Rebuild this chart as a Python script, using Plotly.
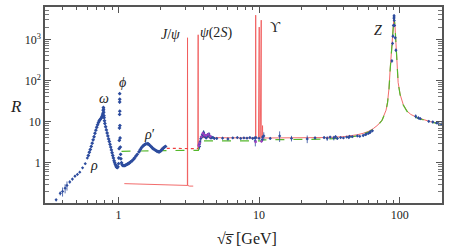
import math
import plotly.graph_objects as go

# ---------------- data ----------------
# blue data: low-energy hadronic region (sqrt(s) in GeV, R)
low_x = [0.36, 0.385, 0.40, 0.417, 0.43, 0.45, 0.47, 0.49, 0.51, 0.53, 0.555, 0.58, 0.60]
low_y = [0.125, 0.18, 0.20, 0.24, 0.28, 0.34, 0.40, 0.47, 0.52, 0.59, 0.75, 0.95, 1.3]
low_e = [0.01, 0.02, 0.05, 0.06, 0.07, 0.03, 0.03, 0.03, 0.03, 0.03, 0.03, 0.04, 0.05]

res_x = [0.61, 0.62, 0.63, 0.64, 0.65, 0.66, 0.67, 0.68, 0.69, 0.70, 0.71, 0.72, 0.73, 0.74, 0.75,
         0.76, 0.765, 0.77, 0.775, 0.778, 0.781, 0.783, 0.785, 0.788, 0.79, 0.795, 0.80, 0.81, 0.82,
         0.83, 0.84, 0.85, 0.86, 0.87, 0.88, 0.89, 0.90, 0.91, 0.92, 0.93, 0.94, 0.95, 0.96, 0.97,
         0.98, 0.99, 1.0, 1.005, 1.01, 1.013, 1.016, 1.018, 1.019, 1.0195, 1.02, 1.021, 1.023, 1.026,
         1.03, 1.035, 1.04, 1.05, 1.06, 1.07, 1.08, 1.1, 1.12, 1.14, 1.16, 1.18, 1.2, 1.22, 1.25,
         1.28, 1.3, 1.33, 1.36, 1.4, 1.43, 1.46, 1.5, 1.53, 1.56, 1.6, 1.63, 1.66, 1.7, 1.73, 1.76,
         1.8, 1.84, 1.88, 1.92, 1.96, 2.0, 2.04, 2.08, 2.12, 2.16]
res_y = [1.5, 1.8, 2.1, 2.5, 3.0, 3.6, 4.3, 5.2, 6.2, 7.3, 8.4, 9.5, 10.5, 11.3, 12.0,
         12.8, 13.5, 14.5, 16, 19, 22, 20, 17, 14, 12.5, 10.5, 9.0, 7.5, 6.3,
         5.3, 4.5, 3.8, 3.3, 2.8, 2.4, 2.05, 1.75, 1.5, 1.3, 1.12, 1.0, 0.9, 0.83, 0.78,
         0.76, 0.8, 0.95, 1.3, 2.2, 3.5, 7, 15, 30, 48, 35, 18, 8, 4,
         2.4, 1.6, 1.25, 1.0, 0.9, 0.86, 0.85, 0.85, 0.87, 0.9, 0.93, 0.96, 1.0, 1.05, 1.12,
         1.22, 1.3, 1.45, 1.6, 1.85, 2.1, 2.35, 2.6, 2.75, 2.85, 2.9, 2.85, 2.7, 2.5, 2.35, 2.2,
         2.1, 2.0, 1.9, 1.85, 1.85, 1.95, 2.1, 2.25, 2.4, 2.5]

# blue data: charm threshold up to the Z
hi_x = [3.75, 3.77, 3.8, 3.85, 3.9, 3.95, 4.0, 4.03, 4.06, 4.1, 4.15, 4.2, 4.25, 4.3, 4.35, 4.4,
        4.45, 4.5, 4.55, 4.6, 4.7, 4.8, 5.0, 5.5, 6.0, 6.5, 7.0, 7.4, 7.8, 8.2, 8.6, 9.0, 9.3,
        9.4, 9.5, 10.0, 10.5, 10.6, 10.8, 12.0, 14.0, 17, 22, 25, 29, 30.5, 32, 34, 35, 36, 38,
        39.8, 42, 43.5, 44, 46, 50, 52, 55, 57, 58, 60, 61, 62, 64]
hi_y = [2.8, 2.5, 3.2, 3.9, 4.2, 4.8, 4.6, 5.5, 4.9, 4.4, 4.5, 4.0, 4.3, 4.8, 4.6, 5.0,
        4.3, 4.1, 4.0, 4.2, 4.1, 3.9, 3.9, 3.95, 3.8, 4.0, 4.1, 3.9, 4.0, 3.95, 4.1, 3.9, 4.0,
        3.4, 4.1, 3.9, 3.6, 4.2, 4.5, 3.9, 4.5, 3.9, 3.8, 4.0, 4.1, 3.9, 4.2, 4.0, 4.3, 3.9, 4.1,
        4.0, 4.2, 4.1, 4.4, 4.3, 4.5, 4.4, 4.6, 4.8, 5.0, 5.2, 5.4, 5.6, 6.0]
hi_e = [0.4, 0.4, 0.5, 0.5, 0.4, 0.6, 0.5, 0.7, 0.5, 0.4, 0.4, 0.3, 0.4, 0.5, 0.4, 0.5,
        0.3, 0.3, 0.3, 0.3, 0.3, 0.3, 0.3, 0.3, 0.3, 0.2, 0.2, 0.2, 0.2, 0.2, 0.2, 0.2, 0.2,
        0.9, 0.2, 0.2, 0.3, 0.4, 1.0, 0.3, 1.3, 0.6, 0.8, 0.3, 0.3, 0.5, 0.3, 0.5, 0.3, 0.3, 0.2,
        0.2, 0.2, 0.2, 0.3, 0.2, 0.3, 0.2, 0.3, 0.3, 0.3, 0.3, 0.3, 0.5, 0.3]

# blue data: Z peak and above
z_dx = [88, 89, 89.5, 90.2, 91.0, 91.2, 91.3, 91.5, 92, 93, 94, 130, 136, 140, 161, 172, 183, 189, 198]
z_dy = [300, 800, 1200, 2200, 3300, 3800, 3500, 2900, 2200, 1100, 550, 13.5, 12.3, 11.8, 10.2, 9.8, 9.3, 9.0, 8.8]
z_de = [30, 80, 120, 200, 300, 300, 300, 250, 200, 100, 50, 1.5, 1.0, 0.8, 0.6, 0.6, 0.5, 0.5, 0.5]

# other experiments near charm threshold
oth_x = [3.72, 3.78, 3.88, 3.98, 4.08, 4.2, 4.35, 4.5, 9.45, 10.4]
oth_y = [2.6, 3.0, 4.3, 5.2, 4.7, 4.6, 4.9, 4.4, 3.2, 3.3]

# red solid: pQCD + Breit-Wigner resonances
jpsi_x = [1.1, 2.0, 3.0, 3.09, 3.097, 3.104, 3.2, 3.4]
jpsi_y = [0.31, 0.29, 0.275, 0.28, 1100, 0.28, 0.27, 0.27]

red_x = [3.67, 3.686, 3.69, 3.75, 3.8, 3.85, 3.9, 4.0, 5.0, 7.0, 9.0, 9.45, 9.46, 9.47,
         9.9, 10.02, 10.03, 10.2, 10.355, 10.36, 10.365, 10.5, 10.58, 10.62, 11, 15, 20, 30,
         40, 45, 50, 55, 60, 65, 70, 75, 78, 80, 82, 84, 85.5, 87, 88.5, 89.7, 90.5, 91.2,
         92.7, 94, 95.3, 97.5, 100.7, 106, 113, 120, 133, 150, 165, 200]
red_y = [2.3, 1300, 2.3, 2.6, 3.3, 3.9, 4.1, 4.1, 4.0, 4.0, 4.0, 4.0, 3900, 4.0,
         4.0, 2000, 4.0, 4.0, 2950, 4.0, 4.0, 4.0, 8, 4.0, 4.0, 4.0, 4.0, 4.1,
         4.3, 4.5, 4.8, 5.2, 5.8, 6.8, 8.3, 11, 14.5, 19, 30, 65, 180, 450, 1000, 2000, 3000, 3700,
         2000, 700, 200, 90, 46, 26, 18, 15, 12.6, 11, 10, 8.7]

# red dotted: 3-loop pQCD (uds region)
dot_x = [2.0, 2.5, 3.0, 3.5, 3.7]
dot_y = [2.25, 2.23, 2.2, 2.2, 2.2]

# green dashed: naive quark model
grn_x = [1.05, 2.0, 3.0, 3.7, 3.75, 3.8, 4.0, 6.0, 10.5, 10.6, 20, 30,
         40, 45, 50, 55, 60, 65, 70, 75, 78, 80, 82, 84, 85.5, 87, 88.5, 89.7, 90.5, 91.2,
         92.7, 94, 95.3, 97.5, 100.7, 106, 113, 120, 133, 150, 165, 200]
grn_y = [1.9, 2.0, 2.0, 2.0, 3.0, 3.3, 3.4, 3.4, 3.4, 3.6, 3.6, 3.75,
         4.0, 4.2, 4.5, 5.0, 5.6, 6.6, 8.1, 10.8, 14.2, 18.6, 29, 63, 175, 440, 980, 1980, 2950, 3650,
         1980, 690, 198, 89, 45, 25.5, 17.6, 14.7, 12.3, 10.8, 9.8, 8.6]

# labels
lab_text = ["<i>ρ</i>", "<i>ω</i>", "<i>ϕ</i>", "<i>ρ</i>′", "<i>J</i>/<i>ψ</i>",
            "<i>ψ</i>(2<i>S</i>)", "ϒ", "<i>Z</i>"]
lab_x = [0.67, 0.79, 1.06, 1.66, 2.36, 4.94, 13.0, 70.5]
lab_y = [0.86, 36, 91, 5.0, 1300, 1400, 2000, 1640]

ytick_vals = [1, 10, 100, 1000]
ytick_text = ["1", "10", "10<sup>2</sup>", "10<sup>3</sup>"]
xtick_vals = [1, 10, 100]
xtick_text = ["1", "10", "100"]

# ---------------- figure ----------------
BLUE = "#2d4c9e"
RED = "#ee4040"
GREEN = "#55b82c"
FONT = "Liberation Serif"

fig = go.Figure()

fig.add_trace(go.Scatter(x=jpsi_x, y=jpsi_y, mode="lines",
                         line=dict(color=RED, width=0.9), opacity=0.85))
fig.add_trace(go.Scatter(x=red_x, y=red_y, mode="lines",
                         line=dict(color=RED, width=0.9), opacity=0.85))
fig.add_trace(go.Scatter(x=grn_x, y=grn_y, mode="lines",
                         line=dict(color=GREEN, width=1.2, dash="dash")))
fig.add_trace(go.Scatter(x=dot_x, y=dot_y, mode="lines",
                         line=dict(color=RED, width=1.2, dash="dot")))

fig.add_trace(go.Scatter(x=low_x, y=low_y, mode="markers",
                         marker=dict(color=BLUE, size=2.5, symbol="diamond"),
                         error_y=dict(type="data", array=low_e, color=BLUE, thickness=0.8, width=0)))
fig.add_trace(go.Scatter(x=res_x, y=res_y, mode="markers",
                         marker=dict(color=BLUE, size=3, symbol="diamond"),
                         error_y=dict(type="percent", value=7, color=BLUE, thickness=1, width=0)))
fig.add_trace(go.Scatter(x=hi_x, y=hi_y, mode="markers",
                         marker=dict(color=BLUE, size=2.5, symbol="diamond"),
                         error_y=dict(type="data", array=hi_e, color=BLUE, thickness=0.8, width=0)))
fig.add_trace(go.Scatter(x=oth_x, y=oth_y, mode="markers",
                         marker=dict(color="#a040c0", size=2.5, symbol="diamond")))
fig.add_trace(go.Scatter(x=z_dx, y=z_dy, mode="markers",
                         marker=dict(color=BLUE, size=2.5, symbol="diamond"),
                         error_y=dict(type="data", array=z_de, color=BLUE, thickness=0.8, width=0)))

for t, xv, yv in zip(lab_text, lab_x, lab_y):
    fig.add_annotation(x=math.log10(xv), y=math.log10(yv), xref="x", yref="y", text=t,
                       showarrow=False, font=dict(family=FONT, size=14, color="#222"))

fig.add_annotation(x=-0.094, y=0.49, xref="paper", yref="paper", text="<i>R</i>",
                   showarrow=False, font=dict(family=FONT, size=17, color="#222"))
fig.add_annotation(x=0.51, y=-0.18, xref="paper", yref="paper", yanchor="middle",
                   text="√<i>s\u0305</i> [GeV]",
                   showarrow=False, font=dict(family=FONT, size=16, color="#222"))

xminor = [v * m for v in [0.1, 1, 10, 100] for m in range(2, 10)]
yminor = [v * m for v in [0.1, 1, 10, 100, 1000] for m in range(2, 10)]

axis_common = dict(showgrid=False, zeroline=False, showline=True, linecolor="#555",
                   linewidth=1.5, mirror="ticks", ticks="inside", tickcolor="#555",
                   tickwidth=1, ticklen=6,
                   tickfont=dict(family=FONT, size=12, color="#222"))

fig.update_xaxes(type="log", range=[math.log10(0.3), math.log10(200)],
                 tickvals=xtick_vals, ticktext=xtick_text,
                 minor=dict(tickvals=xminor, ticks="inside", ticklen=3.5, tickcolor="#555"),
                 **axis_common)
fig.update_yaxes(type="log", range=[-0.98, 3.79],
                 tickvals=ytick_vals, ticktext=ytick_text,
                 minor=dict(tickvals=yminor, ticks="inside", ticklen=4, tickcolor="#777"),
                 **axis_common)

fig.update_layout(width=475, height=246, margin=dict(l=45, r=33, t=5, b=43),
                  paper_bgcolor="white", plot_bgcolor="white", showlegend=False)

fig.write_html("out.html", config={"displayModeBar": False},
               post_script="document.body.style.margin='0';document.body.style.overflow='hidden';")
